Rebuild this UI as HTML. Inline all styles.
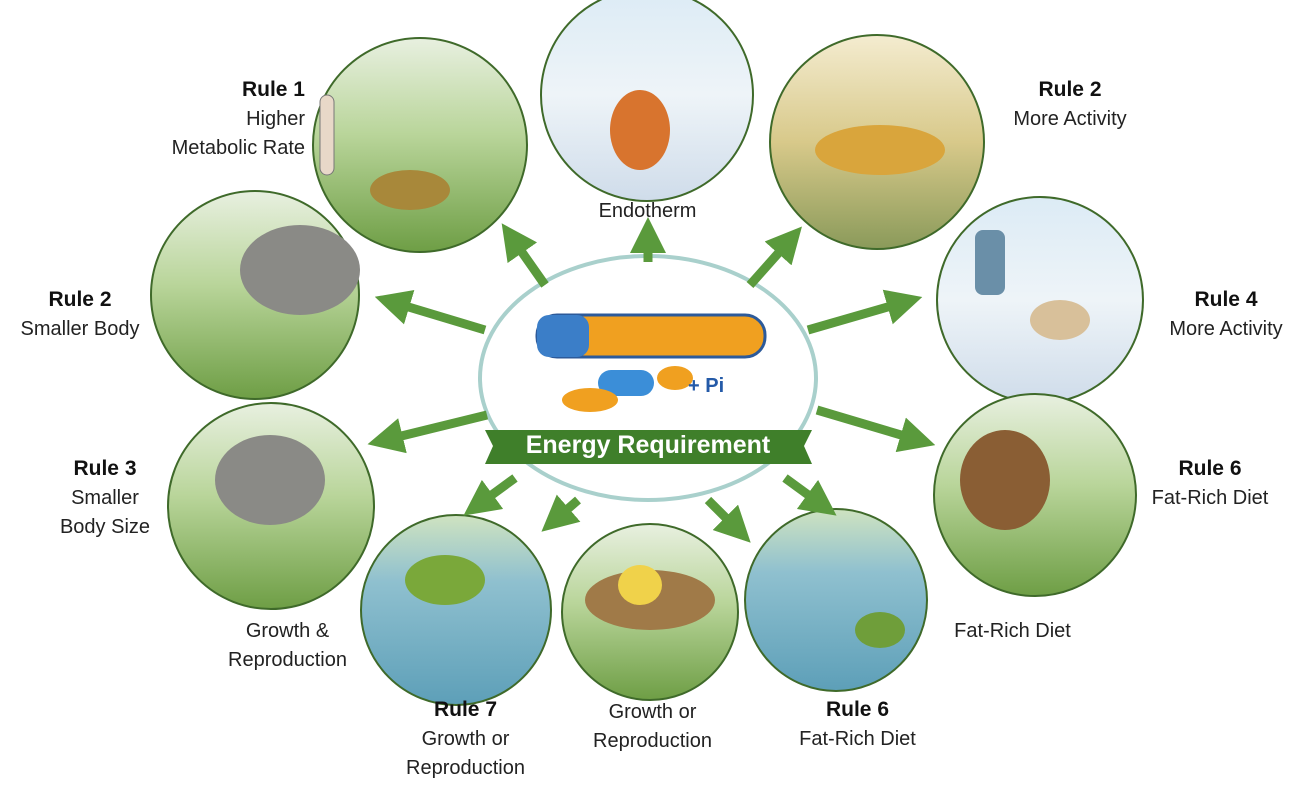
<!DOCTYPE html>
<html><head><meta charset="utf-8"><style>
body{margin:0;width:1306px;height:791px;background:#fff;overflow:hidden;font-family:"Liberation Sans",sans-serif;position:relative}
.t{position:absolute;text-align:center;color:#222;font-size:20px;line-height:29px;white-space:nowrap}
.t b{font-size:21px;color:#111}
</style></head><body>
<svg width="1306" height="791" style="position:absolute;left:0;top:0">
<defs>
<linearGradient id="g" x1="0" y1="0" x2="0" y2="1"><stop offset="0" stop-color="#e8f0e0"/><stop offset=".45" stop-color="#b9d59a"/><stop offset="1" stop-color="#6e9e45"/></linearGradient>
<linearGradient id="s" x1="0" y1="0" x2="0" y2="1"><stop offset="0" stop-color="#dcebf5"/><stop offset=".5" stop-color="#eef4f8"/><stop offset="1" stop-color="#cfdcea"/></linearGradient>
<linearGradient id="w" x1="0" y1="0" x2="0" y2="1"><stop offset="0" stop-color="#cfe3c0"/><stop offset=".35" stop-color="#8fc0cf"/><stop offset="1" stop-color="#5d9fb8"/></linearGradient>
<linearGradient id="d" x1="0" y1="0" x2="0" y2="1"><stop offset="0" stop-color="#f4ecd0"/><stop offset=".5" stop-color="#d8c98a"/><stop offset="1" stop-color="#8a9a5a"/></linearGradient>
<marker id="a" markerWidth="4" markerHeight="4" refX="2" refY="2" orient="auto"><path d="M0,0L4,2L0,4z" fill="#5a9a3c"/></marker>
</defs>
<g stroke="#3f6a2a" stroke-width="2">
<circle cx="420" cy="145" r="107" fill="url(#g)"/>
<circle cx="647" cy="95" r="106" fill="url(#s)"/>
<circle cx="877" cy="142" r="107" fill="url(#d)"/>
<circle cx="255" cy="295" r="104" fill="url(#g)"/>
<circle cx="1040" cy="300" r="103" fill="url(#s)"/>
<circle cx="271" cy="506" r="103" fill="url(#g)"/>
<circle cx="1035" cy="495" r="101" fill="url(#g)"/>
<circle cx="456" cy="610" r="95" fill="url(#w)"/>
<circle cx="650" cy="612" r="88" fill="url(#g)"/>
<circle cx="836" cy="600" r="91" fill="url(#w)"/>
</g>
<ellipse cx="640" cy="130" rx="30" ry="40" fill="#d8742e"/><ellipse cx="300" cy="270" rx="60" ry="45" fill="#8a8a86"/><ellipse cx="270" cy="480" rx="55" ry="45" fill="#8a8a86"/>
<ellipse cx="880" cy="150" rx="65" ry="25" fill="#d9a53c"/><ellipse cx="1060" cy="320" rx="30" ry="20" fill="#d8c09a"/><rect x="975" y="230" width="30" height="65" rx="8" fill="#6a8fa8"/>
<ellipse cx="1005" cy="480" rx="45" ry="50" fill="#8a5e34"/><ellipse cx="445" cy="580" rx="40" ry="25" fill="#7aa83a"/><ellipse cx="650" cy="600" rx="65" ry="30" fill="#a07a48"/><ellipse cx="640" cy="585" rx="22" ry="20" fill="#f0d24a"/>
<ellipse cx="880" cy="630" rx="25" ry="18" fill="#6f9e3a"/><ellipse cx="410" cy="190" rx="40" ry="20" fill="#a8883a"/><rect x="320" y="95" width="14" height="80" rx="7" fill="#e8d8c8" stroke="#777"/>
<ellipse cx="648" cy="378" rx="168" ry="122" fill="#fff" stroke="#a9d0cc" stroke-width="4"/>
<rect x="537" y="315" width="228" height="42" rx="20" fill="#f0a020" stroke="#2c5a9a" stroke-width="3"/>
<rect x="537" y="315" width="52" height="42" rx="12" fill="#3b7ec8"/>
<rect x="598" y="370" width="56" height="26" rx="13" fill="#3b8ed8"/><ellipse cx="675" cy="378" rx="18" ry="12" fill="#f0a020"/>
<ellipse cx="590" cy="400" rx="28" ry="12" fill="#f0a020"/>
<text x="688" y="392" font-family="Liberation Sans" font-size="20" font-weight="bold" fill="#245aa8">+ Pi</text>
<path d="M485 430 H812 L804 446 L812 464 H485 L493 446 Z" fill="#3f7f2a"/>
<text x="648" y="453" text-anchor="middle" font-family="Liberation Sans" font-size="25" font-weight="bold" fill="#fff">Energy Requirement</text>
<g stroke="#5a9a3c" stroke-width="9" marker-end="url(#a)" fill="none">
<line x1="545" y1="285" x2="512" y2="238"/>
<line x1="648" y1="262" x2="648" y2="235"/>
<line x1="750" y1="285" x2="790" y2="240"/>
<line x1="485" y1="330" x2="392" y2="302"/>
<line x1="808" y1="330" x2="905" y2="302"/>
<line x1="487" y1="415" x2="385" y2="440"/>
<line x1="817" y1="410" x2="918" y2="440"/>
<line x1="515" y1="478" x2="478" y2="505"/>
<line x1="578" y1="500" x2="555" y2="520"/>
<line x1="708" y1="500" x2="738" y2="530"/>
<line x1="785" y1="478" x2="822" y2="505"/>
</g>
</svg>
<div class="t" style="left:120px;top:75px;width:185px;text-align:right"><b>Rule 1</b><br>Higher<br>Metabolic Rate</div>
<div class="t" style="left:570px;top:197px;width:155px">Endotherm</div>
<div class="t" style="left:990px;top:75px;width:160px"><b>Rule 2</b><br>More Activity</div>
<div class="t" style="left:0;top:285px;width:160px"><b>Rule 2</b><br>Smaller Body</div>
<div class="t" style="left:1146px;top:285px;width:160px"><b>Rule 4</b><br>More Activity</div>
<div class="t" style="left:40px;top:454px;width:130px"><b>Rule 3</b><br>Smaller<br>Body Size</div>
<div class="t" style="left:1140px;top:454px;width:140px"><b>Rule 6</b><br>Fat-Rich Diet</div>
<div class="t" style="left:215px;top:617px;width:145px">Growth &amp;<br>Reproduction</div>
<div class="t" style="left:935px;top:617px;width:155px">Fat-Rich Diet</div>
<div class="t" style="left:388px;top:695px;width:155px"><b>Rule 7</b><br>Growth or<br>Reproduction</div>
<div class="t" style="left:575px;top:698px;width:155px">Growth or<br>Reproduction</div>
<div class="t" style="left:780px;top:695px;width:155px"><b>Rule 6</b><br>Fat-Rich Diet</div>
</body></html>
